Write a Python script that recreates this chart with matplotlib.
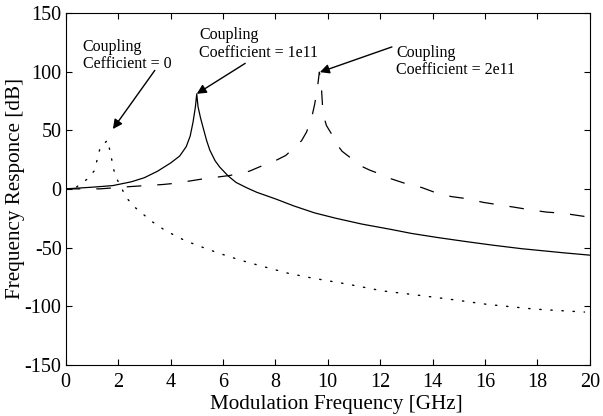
import matplotlib
matplotlib.use("Agg")
import matplotlib.pyplot as plt

plt.rcParams['font.family'] = ['Liberation Serif', 'DejaVu Serif']
plt.rcParams['lines.scale_dashes'] = False

# Coupling coefficient = 0 (dotted)
x_c0 = [0, 0.4, 0.8, 1.1, 1.2, 1.32, 1.6, 1.7, 1.88, 2.1, 2.3, 2.6, 3.3, 3.7, 4.1, 4.5, 5.0,
        5.8, 6.7, 7.5, 8.5, 9.4, 10.7, 12.1, 13.4, 14.8, 16.1, 17.9, 19.8]
y_c0 = [0, 1.4, 8, 15.6, 25, 35.6, 41.5, 31, 11.5, 2, -7, -15, -28, -34, -39, -43.5, -48,
        -54.5, -61, -66, -72, -76, -81, -87, -90.5, -94.5, -98.5, -102.5, -105]

# Coupling coefficient = 1e11 (solid)
x_c1 = [0, 1.0, 1.8, 2.5, 3.0, 3.5, 4.0, 4.35, 4.6, 4.75, 4.86, 4.95, 5.0, 5.05, 5.15,
        5.24, 5.38, 5.5, 5.7, 5.88, 6.2, 6.5, 6.9, 7.3, 8.0,
        8.7, 9.5, 10.3, 11.3, 12.4, 13.2, 14.2, 15.3, 16.3, 17.4, 19.0, 20.0]
y_c1 = [0, 1.4, 2.8, 6.0, 9.5, 15, 22, 28, 36, 45, 57, 70, 81, 70, 60,
        52.5, 41, 33, 24, 18.5, 11, 5.5, 1, -3, -8.5,
        -14.5, -20.5, -25, -30, -34.5, -38, -41.5, -45, -48, -51, -54.5, -56.5]

# Coupling coefficient = 2e11 (dashed)
x_c2 = [0, 1.3, 2.5, 3.7, 4.2, 5.24, 6.26, 7.0, 7.53, 8.0, 8.4, 8.74, 9.0, 9.19, 9.38, 9.5,
        9.6, 9.68, 9.72, 9.76, 9.82, 9.95, 10.14, 10.33, 10.55, 10.84, 11.22, 11.6, 11.98,
        12.43, 13.0, 13.58, 14.15, 14.72, 15.36, 15.93, 16.56, 17.14, 17.77, 18.35, 18.98,
        19.8]
y_c2 = [0, 0, 2, 3.7, 4.8, 8.5, 11.4, 15, 20, 24, 28.5, 35.6, 41, 48.4, 60, 72,
        85, 99.5, 95, 86, 64, 54, 47, 38.5, 32, 27, 20, 16, 12.8,
        8.5, 4.3, 1.2, -3.5, -6.6, -8.5, -11.5, -13.7, -15.7, -18, -19.8, -20.8,
        -23.5]

xticks = list(range(0, 21, 2))
yticks = [-150, -100, -50, 0, 50, 100, 150]

fig = plt.figure(figsize=(6.03, 4.16), dpi=100)
ax = fig.add_axes([0.109, 0.123, 0.869, 0.846])

ax.plot(x_c0, y_c0, color='black', lw=1.0, linestyle=(0, (1.0, 7.0)), dash_capstyle='round')
ax.plot(x_c1, y_c1, color='black', lw=0.9, linestyle='-')
ax.plot(x_c2, y_c2, color='black', lw=0.9, linestyle=(0, (10.5, 11.5)))

ax.set_xlim(0, 20)
ax.set_ylim(-150, 150)
ax.set_xticks(xticks)
ax.set_yticks(yticks)
ax.set_xticklabels([str(t) for t in xticks])
ax.set_yticklabels([str(t) for t in yticks])
ax.tick_params(direction='in', top=True, right=True, length=4, width=0.8,
               labelsize=14.5)
ax.tick_params(axis='x', pad=6)
ax.tick_params(axis='y', pad=3)
for s in ax.spines.values():
    s.set_linewidth(0.8)

ax.set_xlabel('Modulation Frequency [GHz]', fontsize=15.2, labelpad=1)
ax.set_ylabel('Frequency Responce [dB]', fontsize=15.2)
ax.yaxis.set_label_coords(-0.077, 0.5)
ax.xaxis.set_label_coords(0.517, -0.087)

arrowprops = dict(arrowstyle='-|>', color='black', lw=1.0, mutation_scale=14,
                  shrinkA=0, shrinkB=0)
ax.annotate('', xy=(1.8, 51), xytext=(3.4, 101), arrowprops=arrowprops)
ax.annotate('', xy=(5.0, 81), xytext=(6.85, 107), arrowprops=arrowprops)
ax.annotate('', xy=(9.7, 99.5), xytext=(12.45, 121), arrowprops=arrowprops)

ax.text(0.65, 114, 'Coupling\nCefficient = 0', fontsize=11.5, ha='left', va='center',
        linespacing=1.1)
ax.text(5.1, 123.5, 'Coupling\nCoefficient = 1e11', fontsize=11.5, ha='left', va='center',
        linespacing=1.1)
ax.text(12.62, 108.5, 'Coupling\nCoefficient = 2e11', fontsize=11.5, ha='left', va='center',
        linespacing=1.1)

fig.savefig('out.png', dpi=100)
